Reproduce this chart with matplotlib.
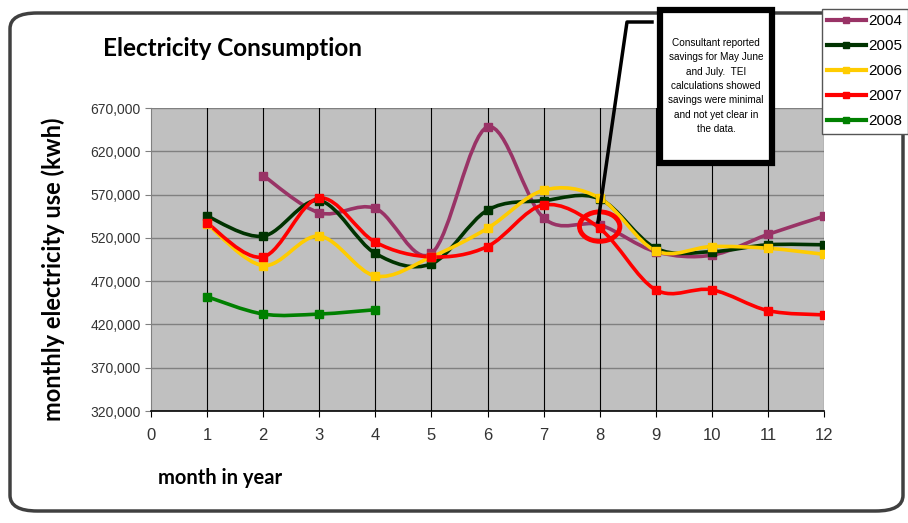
import numpy as np
import matplotlib.pyplot as plt
from matplotlib.path import Path
from matplotlib.patches import PathPatch, Ellipse, Rectangle, FancyBboxPatch
from matplotlib.lines import Line2D
from matplotlib.ticker import FuncFormatter

# values
months_2004 = [2, 3, 4, 5, 6, 7, 8, 9, 10, 11, 12]
kwh_2004 = [592000, 549000, 554000, 502000, 648000, 543000, 535000, 504000, 500000, 524000, 545000]
months_full = [1, 2, 3, 4, 5, 6, 7, 8, 9, 10, 11, 12]
kwh_2005 = [545000, 522000, 563000, 502000, 490000, 552000, 563000, 565000, 508000, 504000, 512000, 512000]
kwh_2006 = [536000, 488000, 522000, 476000, 498000, 531000, 575000, 566000, 505000, 510000, 508000, 501000]
kwh_2007 = [537000, 498000, 566000, 515000, 498000, 510000, 558000, 531000, 460000, 460000, 436000, 431000]
months_2008 = [1, 2, 3, 4]
kwh_2008 = [452000, 432000, 432000, 437000]

series = [
    ('2004', months_2004, kwh_2004, '#993366'),
    ('2005', months_full, kwh_2005, '#003300'),
    ('2006', months_full, kwh_2006, '#FFCC00'),
    ('2007', months_full, kwh_2007, '#FF0000'),
    ('2008', months_2008, kwh_2008, '#008000'),
]

narrow = ['Liberation Sans Narrow', 'Liberation Sans', 'DejaVu Sans']
bold_font = ['Lato', 'DejaVu Sans']


def smooth_path(x, y):
    # Excel-style smoothed line: cubic bezier through the points
    p = np.column_stack([x, y]).astype(float)
    n = len(p)
    verts = [p[0]]
    codes = [Path.MOVETO]
    for i in range(n - 1):
        p0 = p[i - 1] if i > 0 else p[i]
        p1 = p[i]
        p2 = p[i + 1]
        p3 = p[i + 2] if i + 2 < n else p[i + 1]
        c1 = p1 + (p2 - p0) / 6.0
        c2 = p2 - (p3 - p1) / 6.0
        verts += [c1, c2, p2]
        codes += [Path.CURVE4] * 3
    return Path(verts, codes)


fig = plt.figure(figsize=(9.08, 5.23), dpi=100)
W, H = 908, 523

# outer rounded frame
frame = FancyBboxPatch((10 / W, 12 / H), 893 / W, 498 / H,
                       boxstyle='round,pad=0,rounding_size=0.03',
                       transform=fig.transFigure, fill=False,
                       edgecolor='#404040', linewidth=2.5, zorder=0)
fig.patches.append(frame)

ax = fig.add_axes([151 / W, 1 - 411 / H, 673 / W, 303 / H])
ax.set_facecolor('#C0C0C0')
ax.set_xlim(0, 12)
ax.set_ylim(320000, 670000)
ax.set_xticks(range(0, 13))
ax.set_yticks(range(320000, 670001, 50000))
ax.yaxis.set_major_formatter(FuncFormatter(lambda v, pos: f'{int(v):,}'))

for v in range(370000, 670001, 50000):
    ax.axhline(v, color='#808080', linewidth=1, zorder=1)
for m in range(1, 13):
    ax.axvline(m, color='black', linewidth=0.8, zorder=1)

for s in ['top', 'right']:
    ax.spines[s].set_visible(False)
ax.spines['left'].set_color('#808080')
ax.spines['bottom'].set_color('black')
ax.spines['bottom'].set_linewidth(1.2)
ax.tick_params(axis='y', colors='#808080', length=4, labelcolor='#333333', labelsize=10)
ax.tick_params(axis='x', length=4, labelsize=12, pad=8, labelcolor='#333333')
for lab in ax.get_xticklabels() + ax.get_yticklabels():
    lab.set_family(narrow)

handles = []
for name, xs, ys, col in series:
    patch = PathPatch(smooth_path(xs, ys), fill=False, edgecolor=col,
                      linewidth=2.6, zorder=3, capstyle='round')
    ax.add_patch(patch)
    ax.plot(xs, ys, linestyle='none', marker='s', markersize=6,
            color=col, zorder=4)
    handles.append(Line2D([], [], color=col, linewidth=3, marker='s',
                          markersize=5, label=name))

# red circle around August
ax.add_patch(Ellipse((8, 533000), 0.72, 34000, fill=False,
                     edgecolor='#FF0000', linewidth=3.5, zorder=5))

# texts
fig.text(103 / W, 1 - 48 / H, 'Electricity Consumption', fontsize=17.5,
         fontweight='bold', family=bold_font, va='center', ha='left')
fig.text(53 / W, 1 - 269 / H, 'monthly electricity use (kwh)', fontsize=17,
         fontweight='bold', family=bold_font, rotation=90,
         va='center', ha='center')
fig.text(158 / W, 1 - 478 / H, 'month in year', fontsize=14.5,
         fontweight='bold', family=bold_font, va='center', ha='left')

# callout leader line
fig.add_artist(Line2D([652 / W, 627 / W, 598 / W],
                      [1 - 22 / H, 1 - 22 / H, 1 - 222 / H],
                      transform=fig.transFigure, color='black',
                      linewidth=2.5, zorder=6))

# callout box
fig.add_artist(Rectangle((660 / W, 1 - 163 / H), 112 / W, 153 / H,
                         transform=fig.transFigure, facecolor='white',
                         edgecolor='black', linewidth=4.5, zorder=6))
fig.text(716 / W, 1 - 86 / H,
         'Consultant reported\nsavings for May June\nand July.  TEI\n'
         'calculations showed\nsavings were minimal\nand not yet clear in\nthe data.',
         fontsize=7.2, family=narrow, ha='center', va='center',
         linespacing=1.55, zorder=7)

leg = fig.legend(handles=handles, loc='upper right',
                 bbox_to_anchor=(908 / W, 1 - 9 / H), frameon=True,
                 fancybox=False, edgecolor='#555555', framealpha=1,
                 handlelength=2.5, handletextpad=0.2, borderpad=0.35,
                 labelspacing=0.72, borderaxespad=0,
                 prop={'family': narrow, 'size': 11})
leg.set_zorder(8)

plt.savefig('out.png', dpi=100)
